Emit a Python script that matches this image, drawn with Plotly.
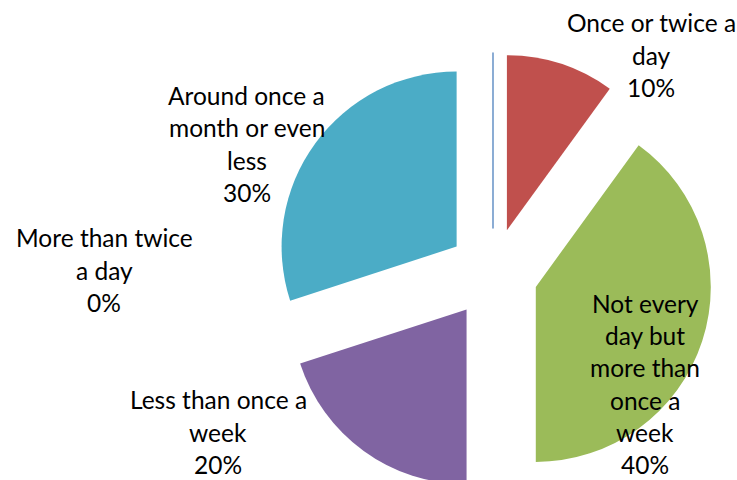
import plotly.graph_objects as go

categories = ["More than twice a day", "Once or twice a day",
              "Not every day but more than once a week",
              "Less than once a week", "Around once a month or even less"]
values = [0, 10, 40, 20, 30]
colors = ["#4F81BD", "#C0504D", "#9BBB59", "#8064A2", "#4BACC6"]

# label lines as displayed (wrapped) for each slice
label_lines = [
    ["More than twice", "a day", "0%"],
    ["Once or twice a", "day", "10%"],
    ["Not every", "day but", "more than", "once a", "week", "40%"],
    ["Less than once a", "week", "20%"],
    ["Around once a", "month or even", "less", "30%"],
]
# label block centers (pixels, layout only)
label_pos = [(104, 270), (651, 55), (645, 384), (218, 432), (247, 144)]

W, H = 737, 493
line_h = 32.3

fig = go.Figure(go.Pie(
    labels=categories, values=values, sort=False, direction="clockwise",
    rotation=0, pull=[0.2571] * 5, textinfo="none", hoverinfo="label+percent",
    marker=dict(colors=colors, line=dict(color=colors, width=[1.3, 0, 0, 0, 0])),
    domain=dict(x=[273 / W, 713 / W], y=[0, 440 / H]),
    showlegend=False,
))

annotations = []
for lines, (cx, cy) in zip(label_lines, label_pos):
    n = len(lines)
    for k, t in enumerate(lines):
        ypix = cy + (k - (n - 1) / 2) * line_h
        annotations.append(dict(
            text=t, x=cx / W, y=1 - ypix / H, xref="paper", yref="paper",
            xanchor="center", yanchor="middle", showarrow=False, borderpad=0,
            font=dict(family="Lato", size=24.5, color="#000000")))

fig.update_layout(width=W, height=H, margin=dict(l=0, r=0, t=0, b=0),
                  paper_bgcolor="white", plot_bgcolor="white",
                  annotations=annotations)

fig.write_html("out.html", post_script="document.body.style.overflow='hidden';document.body.style.margin='0';")
